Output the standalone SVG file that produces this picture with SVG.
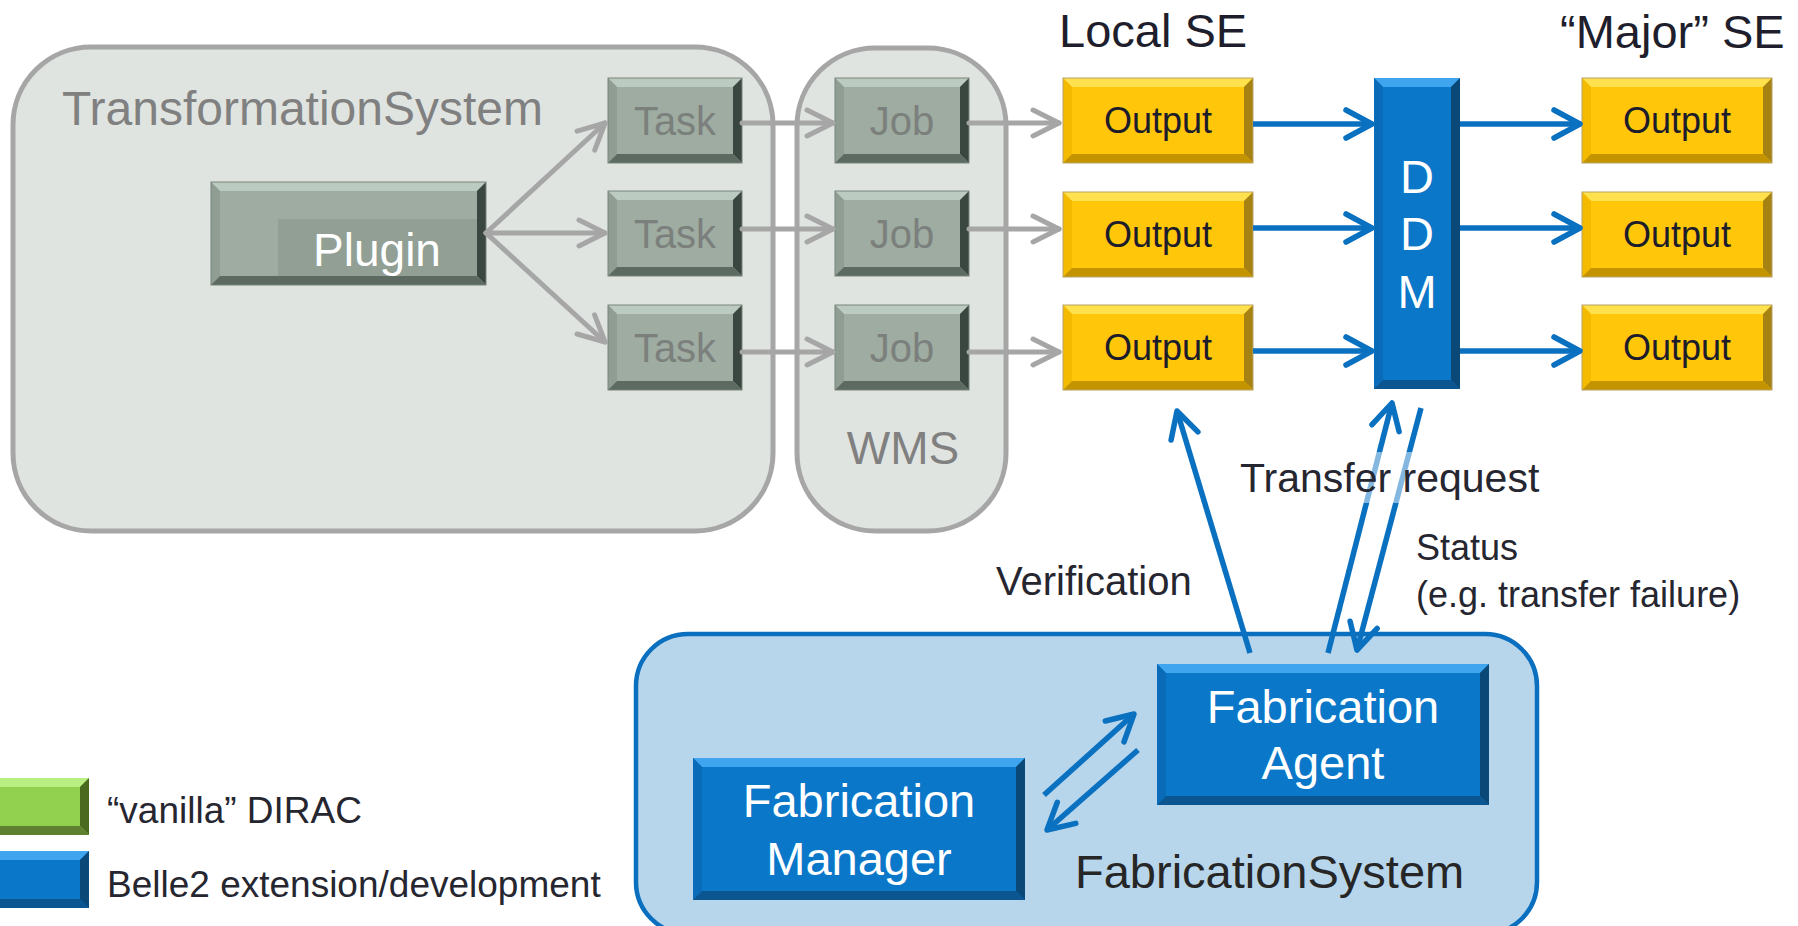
<svg xmlns="http://www.w3.org/2000/svg" xmlns:xlink="http://www.w3.org/1999/xlink" width="1798" height="926" viewBox="0 0 1798 926">
  <style>
    text { font-family: "Liberation Sans", Arial, sans-serif; }
    .sys { fill: #e0e4e1; stroke: #a6a6a6; stroke-width: 5; }
    .fabsys { fill: #b8d6eb; stroke: #0a6fbe; stroke-width: 4.5; }
    .sysLabel { font-size: 48px; fill: #808080; }
    .tileText { font-size: 40px; fill: #7b807c; text-anchor: middle; }
    .outText { font-size: 36px; fill: #1c1c2a; text-anchor: middle; }
    .seLabel { font-size: 47px; fill: #1e1e2c; }
    .whiteText { font-size: 47px; fill: #ffffff; text-anchor: middle; }
    .label { font-size: 40px; fill: #262630; }
    .small { font-size: 36px; fill: #262630; }
    .grayArrow { fill: none; stroke: #a6a6a6; stroke-width: 5; stroke-linecap: round; marker-end: url(#headGray); }
    .blueArrow { fill: none; stroke: #0a70c0; stroke-width: 5.5; stroke-linecap: butt; marker-end: url(#headBlue); }
  </style>
  <defs>
    <marker id="headGray" viewBox="-32 -18 36 36" refX="0" refY="0" markerWidth="36" markerHeight="36" markerUnits="userSpaceOnUse" orient="auto" overflow="visible">
      <path d="M-26,-13 L0,0 L-26,13" fill="none" stroke="#a6a6a6" stroke-width="5" stroke-linecap="round" stroke-linejoin="round"/>
    </marker>
    <marker id="headBlue" viewBox="-32 -18 36 36" refX="0" refY="0" markerWidth="36" markerHeight="36" markerUnits="userSpaceOnUse" orient="auto" overflow="visible">
      <path d="M-26,-14 L0,0 L-26,14" fill="none" stroke="#0a70c0" stroke-width="5.5" stroke-linecap="round" stroke-linejoin="round"/>
    </marker>
    <!-- bevelled grey tile used for tasks and jobs -->
    <g id="grayTile">
      <rect width="134" height="85" fill="#9eaca2"/>
      <polygon points="0,0 134,0 125,9 9,9" fill="#bccbc1"/>
      <polygon points="0,0 9,9 9,76 0,85" fill="#8f9d93"/>
      <polygon points="134,0 125,9 125,76 134,85" fill="#3a4640"/>
      <polygon points="0,85 9,76 125,76 134,85" fill="#5d6a62"/>
      <rect width="134" height="85" fill="none" stroke="#77837b" stroke-width="1"/>
    </g>
    <!-- bevelled yellow tile used for storage outputs -->
    <g id="yellowTile">
      <rect width="190" height="85" fill="#ffc60a"/>
      <polygon points="0,0 190,0 181,9 9,9" fill="#ffe14d"/>
      <polygon points="0,0 9,9 9,76 0,85" fill="#f3ba00"/>
      <polygon points="190,0 181,9 181,76 190,85" fill="#a58212"/>
      <polygon points="0,85 9,76 181,76 190,85" fill="#c39300"/>
      <rect width="190" height="85" fill="none" stroke="#b9a266" stroke-width="1"/>
    </g>
  </defs>

  <rect width="1798" height="926" fill="#ffffff"/>

  <!-- system containers -->
  <g id="transformationSystem">
    <rect class="sys" x="13" y="47" width="760" height="484" rx="78" ry="78"/>
    <text class="sysLabel" x="62" y="125">TransformationSystem</text>
  </g>
  <g id="wms">
    <rect class="sys" x="797" y="48" width="209" height="483" rx="78" ry="78"/>
    <text class="sysLabel" x="903" y="464" text-anchor="middle" style="font-size:46px">WMS</text>
  </g>
  <g id="fabricationSystem">
    <rect class="fabsys" x="636" y="634" width="901" height="300" rx="52" ry="52"/>
    <text class="seLabel" x="1075" y="888" style="fill:#262626">FabricationSystem</text>
  </g>

  <!-- storage headings -->
  <g id="localSE"><text class="seLabel" x="1059" y="47">Local SE</text></g>
  <g id="majorSE"><text class="seLabel" x="1560" y="48">“Major” SE</text></g>

  <!-- plugin -->
  <g id="plugin">
    <rect x="211" y="182" width="275" height="103" fill="#9eaca2"/>
    <polygon points="211,182 486,182 477,191 220,191" fill="#bccbc1"/>
    <polygon points="211,182 220,191 220,276 211,285" fill="#8f9d93"/>
    <polygon points="486,182 477,191 477,276 486,285" fill="#3a4640"/>
    <polygon points="211,285 220,276 477,276 486,285" fill="#5d6a62"/>
    <rect x="278" y="219" width="199" height="57" fill="#919f95"/>
    <rect x="211" y="182" width="275" height="103" fill="none" stroke="#77837b" stroke-width="1"/>
    <text class="whiteText" x="377" y="266" style="font-size:46px">Plugin</text>
  </g>

  <!-- tasks -->
  <g id="task1"><use xlink:href="#grayTile" x="608" y="78"/><text class="tileText" x="675" y="135">Task</text></g>
  <g id="task2"><use xlink:href="#grayTile" x="608" y="191"/><text class="tileText" x="675" y="248">Task</text></g>
  <g id="task3"><use xlink:href="#grayTile" x="608" y="305"/><text class="tileText" x="675" y="362">Task</text></g>

  <!-- jobs -->
  <g id="job1"><use xlink:href="#grayTile" x="835" y="78"/><text class="tileText" x="902" y="135">Job</text></g>
  <g id="job2"><use xlink:href="#grayTile" x="835" y="191"/><text class="tileText" x="902" y="248">Job</text></g>
  <g id="job3"><use xlink:href="#grayTile" x="835" y="305"/><text class="tileText" x="902" y="362">Job</text></g>

  <!-- local outputs -->
  <g id="localOut1"><use xlink:href="#yellowTile" x="1063" y="78"/><text class="outText" x="1158" y="133">Output</text></g>
  <g id="localOut2"><use xlink:href="#yellowTile" x="1063" y="192"/><text class="outText" x="1158" y="247">Output</text></g>
  <g id="localOut3"><use xlink:href="#yellowTile" x="1063" y="305"/><text class="outText" x="1158" y="360">Output</text></g>

  <!-- major outputs -->
  <g id="majorOut1"><use xlink:href="#yellowTile" x="1582" y="78"/><text class="outText" x="1677" y="133">Output</text></g>
  <g id="majorOut2"><use xlink:href="#yellowTile" x="1582" y="192"/><text class="outText" x="1677" y="247">Output</text></g>
  <g id="majorOut3"><use xlink:href="#yellowTile" x="1582" y="305"/><text class="outText" x="1677" y="360">Output</text></g>

  <!-- DDM -->
  <g id="ddm">
    <rect x="1374" y="78" width="86" height="311" fill="#0b77c9"/>
    <polygon points="1374,78 1460,78 1451,87 1383,87" fill="#3ea5ee"/>
    <polygon points="1374,78 1383,87 1383,380 1374,389" fill="#0a6cb8"/>
    <polygon points="1460,78 1451,87 1451,380 1460,389" fill="#0a4878"/>
    <polygon points="1374,389 1383,380 1451,380 1460,389" fill="#0b5590"/>
    <text class="whiteText" x="1417" y="193">D</text>
    <text class="whiteText" x="1417" y="250">D</text>
    <text class="whiteText" x="1417" y="308">M</text>
  </g>

  <!-- fabrication manager -->
  <g id="fabricationManager">
    <rect x="693" y="758" width="332" height="142" fill="#0b77c9"/>
    <polygon points="693,758 1025,758 1016,767 702,767" fill="#3ea5ee"/>
    <polygon points="693,758 702,767 702,891 693,900" fill="#0a6cb8"/>
    <polygon points="1025,758 1016,767 1016,891 1025,900" fill="#0a4878"/>
    <polygon points="693,900 702,891 1016,891 1025,900" fill="#0b5590"/>
    <text class="whiteText" x="859" y="817">Fabrication</text>
    <text class="whiteText" x="859" y="875">Manager</text>
  </g>

  <!-- fabrication agent -->
  <g id="fabricationAgent">
    <rect x="1157" y="664" width="332" height="141" fill="#0b77c9"/>
    <polygon points="1157,664 1489,664 1480,673 1166,673" fill="#3ea5ee"/>
    <polygon points="1157,664 1166,673 1166,796 1157,805" fill="#0a6cb8"/>
    <polygon points="1489,664 1480,673 1480,796 1489,805" fill="#0a4878"/>
    <polygon points="1157,805 1166,796 1480,796 1489,805" fill="#0b5590"/>
    <text class="whiteText" x="1323" y="723">Fabrication</text>
    <text class="whiteText" x="1323" y="779">Agent</text>
  </g>

  <!-- connectors -->
  <g id="connectors">
    <line class="grayArrow" x1="486" y1="233" x2="605" y2="123"/>
    <line class="grayArrow" x1="486" y1="233" x2="605" y2="233"/>
    <line class="grayArrow" x1="486" y1="233" x2="605" y2="342"/>

    <line class="grayArrow" x1="742" y1="123" x2="833" y2="123"/>
    <line class="grayArrow" x1="742" y1="229" x2="833" y2="229"/>
    <line class="grayArrow" x1="742" y1="352" x2="833" y2="352"/>

    <line class="grayArrow" x1="969" y1="123" x2="1059" y2="123"/>
    <line class="grayArrow" x1="969" y1="229" x2="1059" y2="229"/>
    <line class="grayArrow" x1="969" y1="352" x2="1059" y2="352"/>

    <line class="blueArrow" x1="1253" y1="124" x2="1372" y2="124"/>
    <line class="blueArrow" x1="1253" y1="228" x2="1372" y2="228"/>
    <line class="blueArrow" x1="1253" y1="351" x2="1372" y2="351"/>

    <line class="blueArrow" x1="1460" y1="124" x2="1580" y2="124"/>
    <line class="blueArrow" x1="1460" y1="228" x2="1580" y2="228"/>
    <line class="blueArrow" x1="1460" y1="351" x2="1580" y2="351"/>

    <line class="blueArrow" x1="1250" y1="653" x2="1177" y2="411"/>
    <line class="blueArrow" x1="1328" y1="653" x2="1392" y2="403"/>
    <line class="blueArrow" x1="1421" y1="408" x2="1357" y2="650"/>

    <line class="blueArrow" x1="1044" y1="795" x2="1134" y2="714"/>
    <line class="blueArrow" x1="1138" y1="750" x2="1047" y2="830"/>
  </g>

  <!-- connector labels -->
  <g id="labels">
    <rect x="1238" y="452" width="314" height="51" fill="#ffffff" fill-opacity="0.5"/>
    <text class="label" x="1240" y="492" style="font-size:41px">Transfer request</text>
    <text class="label" x="996" y="595">Verification</text>
    <text class="small" x="1416" y="560">Status</text>
    <text class="small" x="1416" y="607">(e.g. transfer failure)</text>
  </g>

  <!-- legend -->
  <g id="legendVanilla">
    <rect x="-10" y="778" width="99" height="57" fill="#92d050"/>
    <polygon points="-10,778 89,778 80,787 -1,787" fill="#b9ee82"/>
    <polygon points="89,778 80,787 80,826 89,835" fill="#4a6a20"/>
    <polygon points="-10,835 -1,826 80,826 89,835" fill="#5f8030"/>
    <text class="small" x="107" y="823" style="font-size:37px">“vanilla” DIRAC</text>
  </g>
  <g id="legendBelle2">
    <rect x="-10" y="851" width="99" height="57" fill="#0b77c9"/>
    <polygon points="-10,851 89,851 80,860 -1,860" fill="#3ea5ee"/>
    <polygon points="89,851 80,860 80,899 89,908" fill="#0a4878"/>
    <polygon points="-10,908 -1,899 80,899 89,908" fill="#0b5590"/>
    <text class="small" x="107" y="897" style="font-size:37px">Belle2 extension/development</text>
  </g>
</svg>
